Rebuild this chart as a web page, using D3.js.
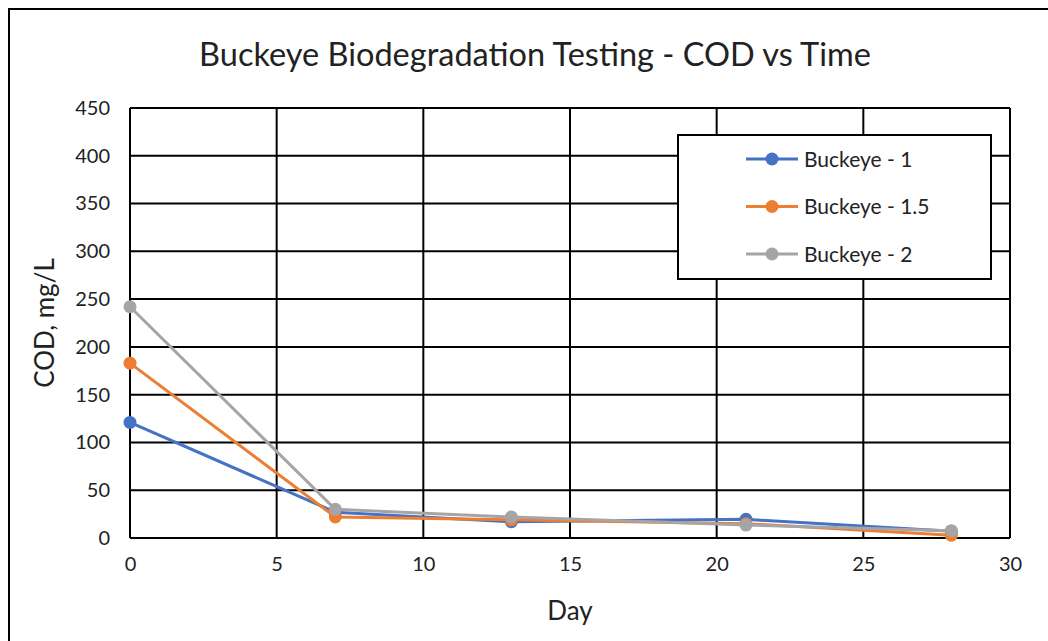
<!DOCTYPE html>
<html>
<head>
<meta charset="utf-8">
<script src="https://cdnjs.cloudflare.com/ajax/libs/d3/7.8.5/d3.min.js"></script>
<style>
  body { margin: 0; background: #fff; }
  svg text { font-family: Lato, "Open Sans", sans-serif; fill: #222; }
</style>
</head>
<body>
<div id="chart"></div>
<script>
// data
var days = [0, 7, 13, 21, 28];
var seriesNames = ["Buckeye - 1", "Buckeye - 1.5", "Buckeye - 2"];
var buckeye1 = [121, 27, 17, 19.5, 7];
var buckeye15 = [183, 22, 19, 15, 3];
var buckeye2 = [242, 30, 22, 13.5, 7.7];
var colors = ["#4472C4", "#ED7D31", "#A5A5A5"];
var xTicks = [0, 5, 10, 15, 20, 25, 30];
var yTicks = [0, 50, 100, 150, 200, 250, 300, 350, 400, 450];

var W = 1048, H = 641;
var margin = { top: 108, right: 38, bottom: 103, left: 130 },
    width = W - margin.left - margin.right,
    height = H - margin.top - margin.bottom;

var svg = d3.select("#chart").append("svg")
    .attr("width", W)
    .attr("height", H);

// outer chart frame (cut off at right and bottom like the picture)
svg.append("rect")
    .attr("x", 9).attr("y", 9)
    .attr("width", W + 20).attr("height", H + 20)
    .attr("fill", "none").attr("stroke", "#000").attr("stroke-width", 2);

svg.append("text")
    .attr("x", 535).attr("y", 66)
    .attr("text-anchor", "middle")
    .style("font-size", "32.5px")
    .text("Buckeye Biodegradation Testing - COD vs Time");

var g = svg.append("g")
    .attr("transform", "translate(" + margin.left + "," + margin.top + ")");

var x = d3.scaleLinear().domain([0, 30]).range([0, width]);
var y = d3.scaleLinear().domain([0, 450]).range([height, 0]);

// grid lines
g.selectAll(".vgrid").data(xTicks).enter().append("line")
    .attr("x1", function (d) { return x(d); })
    .attr("x2", function (d) { return x(d); })
    .attr("y1", 0).attr("y2", height)
    .attr("stroke", "#000").attr("stroke-width", 2);

g.selectAll(".hgrid").data(yTicks).enter().append("line")
    .attr("x1", 0).attr("x2", width)
    .attr("y1", function (d) { return y(d); })
    .attr("y2", function (d) { return y(d); })
    .attr("stroke", "#000").attr("stroke-width", 2);

// axes (labels only, lines are the grid)
var xAxis = g.append("g")
    .attr("transform", "translate(0," + height + ")")
    .call(d3.axisBottom(x).tickValues(xTicks).tickSize(0).tickPadding(19));
var yAxis = g.append("g")
    .call(d3.axisLeft(y).tickValues(yTicks).tickSize(0).tickPadding(20));
[xAxis, yAxis].forEach(function (a) {
    a.select(".domain").remove();
    a.selectAll("text")
        .style("font-family", "Lato, 'Open Sans', sans-serif")
        .style("font-size", "20px")
        .attr("fill", "#222");
});

svg.append("text")
    .attr("x", margin.left + x(15)).attr("y", 620)
    .attr("text-anchor", "middle")
    .style("font-size", "26px")
    .text("Day");

svg.append("text")
    .attr("transform", "translate(54," + (margin.top + height / 2) + ") rotate(-90)")
    .attr("text-anchor", "middle")
    .style("font-size", "26px")
    .text("COD, mg/L");

// series
var allSeries = [buckeye1, buckeye15, buckeye2];
var line = d3.line()
    .x(function (d, i) { return x(days[i]); })
    .y(function (d) { return y(d); });

allSeries.forEach(function (vals, k) {
    g.append("path")
        .datum(vals)
        .attr("d", line)
        .attr("fill", "none")
        .attr("stroke", colors[k])
        .attr("stroke-width", 3);
    g.selectAll(".pt" + k).data(vals).enter().append("circle")
        .attr("cx", function (d, i) { return x(days[i]); })
        .attr("cy", function (d) { return y(d); })
        .attr("r", 6.5)
        .attr("fill", colors[k]);
});

// legend
var legend = svg.append("g").attr("transform", "translate(678,135)");
legend.append("rect")
    .attr("width", 313).attr("height", 144)
    .attr("fill", "#fff").attr("stroke", "#000").attr("stroke-width", 2);
seriesNames.forEach(function (name, k) {
    var row = legend.append("g").attr("transform", "translate(0," + (24 + k * 47.5) + ")");
    row.append("line")
        .attr("x1", 68).attr("x2", 120)
        .attr("stroke", colors[k]).attr("stroke-width", 3);
    row.append("circle").attr("cx", 94).attr("r", 6.5).attr("fill", colors[k]);
    row.append("text")
        .attr("x", 126).attr("y", 7.5)
        .style("font-size", "21px")
        .text(name);
});
</script>
</body>
</html>
